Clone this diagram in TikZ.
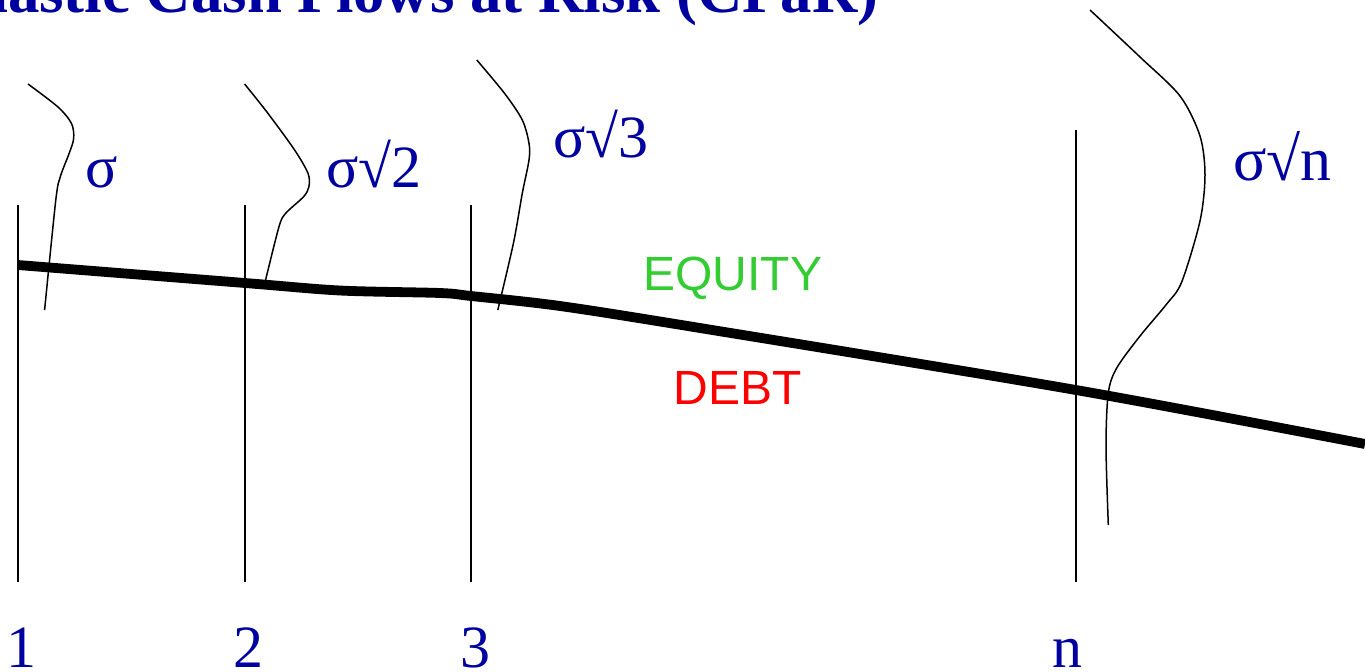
\documentclass[tikz,border=0pt]{standalone}
\usepackage{fontspec}
\setmainfont{Liberation Serif}
\newfontfamily\arialf{Liberation Sans}
\definecolor{tblue}{HTML}{0000A0}
\definecolor{tgreen}{HTML}{33CC33}
\definecolor{tred}{HTML}{FF0000}
\begin{document}
\begin{tikzpicture}[x=0.5pt,y=-0.5pt,
  thinline/.style={line width=0.75pt, black},
  bigline/.style={line width=4.9pt, black},
  lbl/.style={inner sep=0pt, text=tblue, font=\fontsize{30}{36}\selectfont},
  cat/.style={inner sep=0pt, font=\arialf\fontsize{24}{28}\selectfont}]
\useasboundingbox (0,0) rectangle (1365,671);
% title (clipped at the top of the page)
\node[inner sep=0pt, anchor=base east, text=tblue, font=\bfseries\fontsize{31.4}{36}\selectfont] (title) at (879,12) {Stochastic Cash Flows at Risk (CFaR)};
% time axes
\draw[thinline] (18,205) -- (18,582);
\draw[thinline] (245,205) -- (245,582);
\draw[thinline] (471,205) -- (471,582);
\draw[thinline] (1076,130) -- (1076,582);
% debt / equity boundary
\draw[bigline] plot[smooth, tension=0.5] coordinates {(18,265) (245,283) (340,290.5) (440,293) (471,296) (560,306) (700,328) (1076,390) (1365,444)};
% distributions
\draw[thinline] plot[smooth] coordinates {(28,84) (58,107) (71.4,123.3) (73.7,138.3) (69.2,153.3) (60.3,176.7) (55.8,200) (44.6,310)};
\draw[thinline] plot[smooth] coordinates {(244.6,84) (267.9,113.3) (294.6,150) (308,173.3) (308.9,186.7) (303.6,196.7) (285.7,213.3) (279,226.7) (265.6,280)};
\draw[thinline] plot[smooth] coordinates {(476.8,60) (504.5,93.3) (522.3,120) (529,143.3) (529,160) (522.3,193.3) (513.4,243.3) (497.8,310)};
\draw[thinline] plot[smooth] coordinates {(1090,10) (1140,57) (1180,96) (1200,136) (1205,175) (1200,221) (1181.7,282) (1166.7,304) (1140,336) (1116.7,368) (1108.3,393) (1106,446) (1108.3,525)};
% sigma labels
\node[lbl, anchor=base west] (s1) at (85,187) {σ};
\node[lbl, anchor=base west] (s2) at (326,187) {σ√2};
\node[lbl, anchor=base west] (s3) at (553,157) {σ√3};
\node[lbl, anchor=base west, font=\fontsize{31}{36}\selectfont] (sn) at (1233,180) {σ√n};
% region labels
\node[cat, anchor=base west, text=tgreen] (eq) at (643,290) {EQUITY};
\node[cat, anchor=base west, text=tred] (debt) at (673,404) {DEBT};
% period labels
\node[lbl, anchor=base] (t1) at (21,667) {1};
\node[lbl, anchor=base] (t2) at (248,667) {2};
\node[lbl, anchor=base] (t3) at (475,667) {3};
\node[lbl, anchor=base] (tn) at (1067,667) {n};
\end{tikzpicture}
\end{document}
